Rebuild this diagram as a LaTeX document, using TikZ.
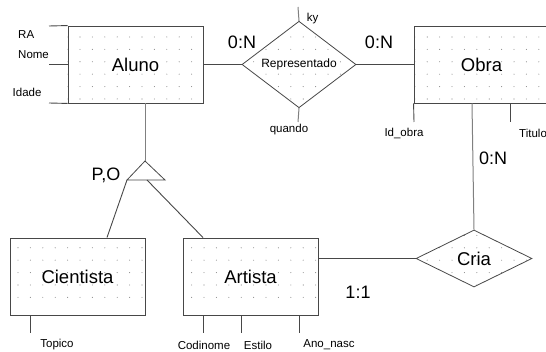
\documentclass[tikz,border=0pt]{standalone}
\usepackage{fontspec}
\setmainfont{Liberation Sans}
\usetikzlibrary{shapes.geometric}
\pgfdeclarelayer{background}
\pgfsetlayers{background,main}
\newcommand\dotfield{\foreach \i in {0,...,43} \foreach \j in {0,...,21} \fill[black!45] (18+12.4*\i,37+12.4*\j) circle (0.55pt);}
\begin{document}
\begin{tikzpicture}[x=1pt,y=-1pt,
  ent/.style={draw=black!72, line width=0.9pt, minimum width=135pt, minimum height=77pt, inner sep=0pt, font=\fontsize{18.5}{20}\selectfont},
  rel/.style={diamond, draw=black!72, line width=0.8pt, inner sep=0pt},
  attr/.style={font=\fontsize{11.5}{13}\selectfont, inner sep=0pt},
  card/.style={font=\fontsize{18}{20}\selectfont, inner sep=0pt},
  conn/.style={draw=black!72, line width=0.9pt},
  lconn/.style={draw=black!50, line width=1pt}]
\useasboundingbox (0,0) rectangle (546,352);
% entities
\node[ent] (aluno) at (135.5,64.5) {Aluno};
\node[ent] (obra) at (481.5,64.5) {Obra};
\node[ent] (cient) at (77.5,276.5) {Cientista};
\node[ent] (art) at (250.5,276.5) {Artista};
% relationships
\node[rel, minimum width=114pt, minimum height=57pt, font=\fontsize{12}{13}\selectfont] (rep) at (299,64.5) {Representado};
\node[rel, minimum width=116pt, minimum height=57pt, font=\fontsize{18.5}{20}\selectfont] (cria) at (474,258.5) {Cria};
% specialization triangle
\coordinate (tapex) at (145,161);
\coordinate (tbl) at (127,180);
\coordinate (tbr) at (165,180);
\coordinate (tbm) at (147,180);
\draw[conn, line width=0.8pt] (tapex) -- (tbl) -- (tbr) -- cycle;
% dotted grid inside shapes
\begin{pgfonlayer}{background}
\begin{scope}\clip (aluno.north west) rectangle (aluno.south east);\dotfield\end{scope}
\begin{scope}\clip (obra.north west) rectangle (obra.south east);\dotfield\end{scope}
\begin{scope}\clip (cient.north west) rectangle (cient.south east);\dotfield\end{scope}
\begin{scope}\clip (art.north west) rectangle (art.south east);\dotfield\end{scope}
\begin{scope}\clip (rep.north) -- (rep.east) -- (rep.south) -- (rep.west) -- cycle;\dotfield\end{scope}
\begin{scope}\clip (cria.north) -- (cria.east) -- (cria.south) -- (cria.west) -- cycle;\dotfield\end{scope}
\end{pgfonlayer}
% connectors
\draw[conn] (aluno.east) -- (rep.west);
\draw[conn] (rep.east) -- (obra.west);
\draw[lconn] (aluno.south -| tapex) -- (tapex);
\draw[conn] (tbl) -- (cient.north -| 107,0);
\draw[conn] (tbm) -- (art.north -| 203,0);
\draw[lconn] (obra.south -| 472,0) -- (cria.north);
\draw[conn] (art.east |- cria.west) -- (cria.west);
% attribute lines
\coordinate (raend) at (49,26);
\coordinate (nomeend) at (49,64.5);
\coordinate (idadeend) at (49,103);
\draw[conn] (aluno.north west) -- (raend);
\draw[conn] (aluno.west) -- (nomeend);
\draw[conn] (aluno.south west) -- (idadeend);
\coordinate (kyend) at (298,7);
\coordinate (quandoend) at (298,122);
\draw[lconn] (rep.north) -- (kyend);
\draw[lconn] (rep.south) -- (quandoend);
\coordinate (idobraend) at (414,122);
\coordinate (tituloend) at (510,122);
\draw[conn] (obra.south west) -- (idobraend);
\draw[conn] (obra.south -| tituloend) -- (tituloend);
\coordinate (topicoend) at (30,333);
\draw[conn] (cient.south -| topicoend) -- (topicoend);
\coordinate (codend) at (203,333);
\coordinate (estend) at (241,333);
\coordinate (anoend) at (299,333);
\draw[conn] (art.south -| codend) -- (codend);
\draw[conn] (art.south -| estend) -- (estend);
\draw[conn] (art.south -| anoend) -- (anoend);
% attribute labels
\node[attr, anchor=west] (ra) at (18,35) {RA};
\node[attr, anchor=west] (nome) at (18,55) {Nome};
\node[attr, anchor=west] (idade) at (12.5,92) {Idade};
\node[attr] (ky) at (312.5,19) {ky};
\node[attr] (quando) at (289,130) {quando};
\node[attr] (idobra) at (404,133) {Id\_obra};
\node[attr, anchor=west] (titulo) at (519,133) {Titulo};
\node[attr] (topico) at (57,345) {Topico};
\node[attr] (codinome) at (204,345) {Codinome};
\node[attr] (estilo) at (258,345) {Estilo};
\node[attr] (anonasc) at (329,345) {Ano\_nasc};
% cardinalities
\node[card] (c1) at (242,42) {0:N};
\node[card] (c2) at (379,42) {0:N};
\node[card] (c3) at (493,158) {0:N};
\node[card] (c4) at (358,292) {1:1};
\node[card] (po) at (106,175) {P,O};
\end{tikzpicture}
\end{document}
